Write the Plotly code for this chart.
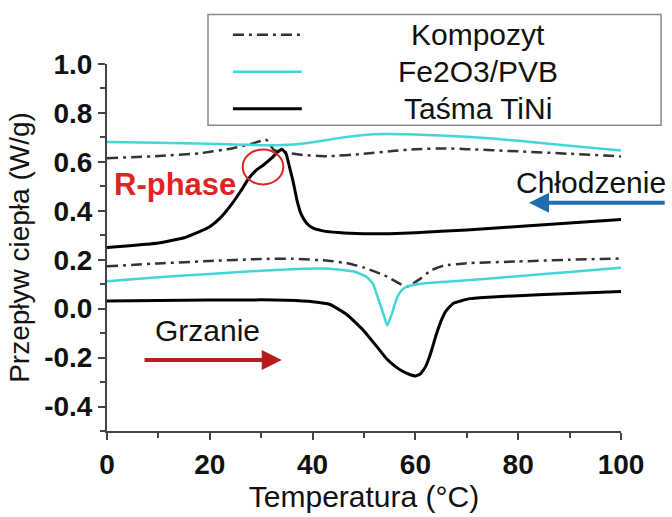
import plotly.graph_objects as go

# DSC curves: temperature (°C) and heat flow (W/g)
# --- Kompozyt ---
komp_heat_t = [0, 10, 20, 30, 36, 43, 47, 50, 54, 58.3, 61, 63, 65.5, 70, 80, 90, 100]
komp_heat_q = [0.173, 0.185, 0.195, 0.203, 0.204, 0.196, 0.185, 0.168, 0.136, 0.09,
               0.123, 0.156, 0.176, 0.186, 0.193, 0.2, 0.205]
komp_cool_t = [0, 10, 18, 24.5, 28, 31, 32.5, 35, 38, 43, 50, 56, 60, 66, 70, 80, 90, 100]
komp_cool_q = [0.615, 0.624, 0.635, 0.656, 0.673, 0.69, 0.648, 0.637, 0.628, 0.623,
               0.633, 0.645, 0.652, 0.655, 0.652, 0.643, 0.633, 0.622]

# --- Fe2O3/PVB ---
pvb_heat_t = [0, 10, 20, 30, 38, 43.4, 48, 50.5, 51.8, 52.5, 53.8, 54.5, 55.4, 56.4,
              57.3, 58.3, 61.5, 66, 72.6, 80, 90, 100]
pvb_heat_q = [0.112, 0.128, 0.142, 0.155, 0.163, 0.163, 0.152, 0.13, 0.1, 0.057, -0.023,
              -0.069, -0.023, 0.044, 0.075, 0.09, 0.103, 0.11, 0.12, 0.133, 0.15, 0.167]
pvb_cool_t = [0, 10, 20, 30, 33, 37, 40, 45, 50, 54, 58, 62, 68, 75, 80, 90, 100]
pvb_cool_q = [0.681, 0.678, 0.674, 0.668, 0.668, 0.672, 0.68, 0.697, 0.71, 0.714,
              0.713, 0.71, 0.705, 0.695, 0.686, 0.666, 0.646]

# --- Taśma TiNi ---
tini_heat_t = [0, 10, 20, 30, 35, 40, 43.4, 46.6, 49.9, 52.5, 54.4, 56, 57.5, 59, 60,
               61, 62, 63, 64, 65, 66, 67.4, 70.6, 75, 80, 90, 100]
tini_heat_q = [0.031, 0.033, 0.035, 0.036, 0.034, 0.028, 0.017, -0.023, -0.089, -0.155,
               -0.205, -0.235, -0.256, -0.27, -0.275, -0.266, -0.236, -0.18, -0.11,
               -0.05, -0.008, 0.022, 0.041, 0.048, 0.053, 0.062, 0.07]
tini_cool_t = [0, 5, 10, 15, 18, 20, 22, 24, 26, 27.5, 29, 30.5, 32, 33.3, 34, 34.8,
               35.5, 36.2, 37, 37.8, 38.8, 40, 42, 45, 50, 55, 60, 70, 80, 90, 100]
tini_cool_q = [0.25, 0.258, 0.268, 0.29, 0.315, 0.335, 0.37, 0.42, 0.48, 0.53, 0.565,
               0.588, 0.615, 0.642, 0.652, 0.635, 0.58, 0.52, 0.44, 0.385, 0.35, 0.33,
               0.318, 0.311, 0.306, 0.306, 0.31, 0.322, 0.336, 0.35, 0.364]

series_names = ["Kompozyt", "Fe2O3/PVB", "Taśma TiNi"]

# axis ticks
x_ticks = [0, 20, 40, 60, 80, 100]
y_ticks = [-0.4, -0.2, 0.0, 0.2, 0.4, 0.6, 0.8, 1.0]
y_tick_text = ["-0.4", "-0.2", "0.0", "0.2", "0.4", "0.6", "0.8", "1.0"]

# R-phase highlight (data units)
rphase_box = dict(t0=26.4, t1=34.3, q0=0.508, q1=0.651)

FONT = "Liberation Sans, Arial, sans-serif"
styles = [
    dict(color="#333333", width=2.5, dash="11px,5px,3px,5px"),
    dict(color="#44d6d6", width=2.5),
    dict(color="#000000", width=3),
]

fig = go.Figure()
data = [
    (komp_heat_t, komp_heat_q, komp_cool_t, komp_cool_q),
    (pvb_heat_t, pvb_heat_q, pvb_cool_t, pvb_cool_q),
    (tini_heat_t, tini_heat_q, tini_cool_t, tini_cool_q),
]
for name, (ht, hq, ct, cq), st in zip(series_names, data, styles):
    fig.add_trace(go.Scatter(
        x=ht + [None] + ct, y=hq + [None] + cq, name=name, mode="lines",
        line=dict(shape="spline", smoothing=0.4, **st),
        connectgaps=False, showlegend=False,
    ))

# legend box with line samples
leg_y = [1.0796, 0.9788, 0.878]
shapes = [dict(type="rect", xref="paper", yref="paper", x0=0.1965, x1=1.078,
               y0=0.833, y1=1.135, line=dict(color="#8a8a8a", width=1.5),
               fillcolor="white", layer="below")]
annotations = []
for name, st, ly in zip(series_names, styles, leg_y):
    shapes.append(dict(type="line", xref="paper", yref="paper", x0=0.245, x1=0.379,
                       y0=ly, y1=ly, line=st))
    annotations.append(dict(xref="paper", yref="paper", x=0.722, y=ly, text=name,
                            showarrow=False, xanchor="center", yanchor="middle",
                            font=dict(family=FONT, size=30, color="#111111")))

# R-phase circle
shapes.append(dict(type="circle", xref="x", yref="y",
                   x0=rphase_box["t0"], x1=rphase_box["t1"],
                   y0=rphase_box["q0"], y1=rphase_box["q1"],
                   line=dict(color="#e02424", width=2)))

annotations += [
    dict(x=13.2, y=0.508, xref="x", yref="y", text="<b>R-phase</b>", showarrow=False,
         font=dict(family=FONT, size=31, color="#e02424")),
    dict(x=19.5, y=-0.091, xref="x", yref="y", text="Grzanie", showarrow=False,
         font=dict(family=FONT, size=30, color="#111111")),
    dict(x=94.2, y=0.516, xref="x", yref="y", text="Chłodzenie", showarrow=False,
         font=dict(family=FONT, size=30, color="#111111")),
    # heating arrow (points right)
    dict(x=34.0, y=-0.21, ax=7.0, ay=-0.21, xref="x", yref="y", axref="x", ayref="y",
         text="", showarrow=True, arrowhead=2, arrowsize=1.0, arrowwidth=4,
         arrowcolor="#b81c1c"),
    # cooling arrow (points left)
    dict(x=82.1, y=0.433, ax=108.8, ay=0.433, xref="x", yref="y", axref="x", ayref="y",
         text="", showarrow=True, arrowhead=2, arrowsize=1.0, arrowwidth=4,
         arrowcolor="#1f6db0"),
]

axis_common = dict(
    showline=True, linecolor="#444444", linewidth=2, ticks="outside", ticklen=7,
    tickwidth=2, tickcolor="#444444", showgrid=False, zeroline=False,
    tickfont=dict(family=FONT, size=28, color="#111111", weight="bold"),
)

fig.update_layout(
    width=672, height=517,
    margin=dict(l=107, r=51, t=64, b=76),
    paper_bgcolor="white", plot_bgcolor="white",
    shapes=shapes, annotations=annotations,
    xaxis=dict(range=[0, 100], tickmode="array", tickvals=x_ticks,
               minor=dict(tickmode="linear", tick0=0, dtick=10, ticks="outside",
                          ticklen=5, tickwidth=2, tickcolor="#444444"),
               title=dict(text="Temperatura (°C)", standoff=4,
                          font=dict(family=FONT, size=30, color="#111111")),
               **axis_common),
    yaxis=dict(range=[-0.5, 1.0], tickmode="array", tickvals=y_ticks,
               ticktext=y_tick_text,
               minor=dict(tickmode="linear", tick0=0, dtick=0.1, ticks="outside",
                          ticklen=5, tickwidth=2, tickcolor="#444444"),
               title=dict(text="Przepływ ciepła (W/g)", standoff=6,
                          font=dict(family=FONT, size=28, color="#111111")),
               **axis_common),
)

fig.write_html("out.html")
